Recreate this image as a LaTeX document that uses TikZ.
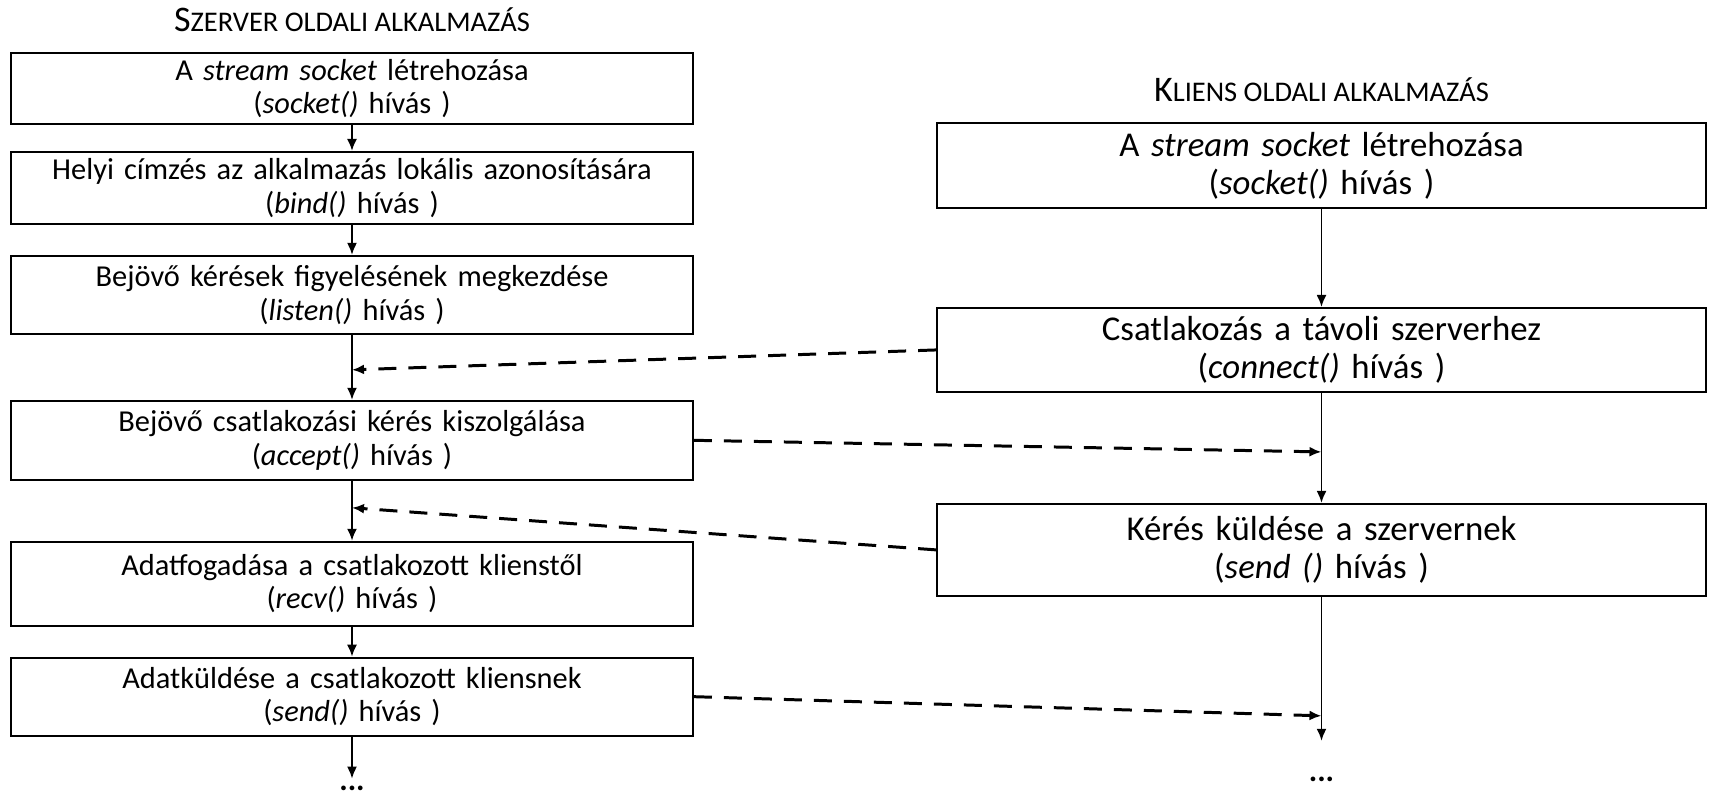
\documentclass[tikz,border=0pt]{standalone}
\usepackage{fontspec}
\setmainfont{Carlito}
\usetikzlibrary{positioning}
\usetikzlibrary{arrows.meta}

\newcommand{\kiskap}[1]{{\fontsize{16.2pt}{16.2pt}\selectfont #1}}

\begin{document}
\begin{tikzpicture}[align=center,node distance=5mm,line width=1.1pt,
szerver/.style={draw,minimum width=13.64cm,text width=13.2cm,inner sep=0pt,font=\fontsize{17.3pt}{19pt}\selectfont},
kliens/.style={draw,minimum width=15.38cm,text width=15cm,inner sep=0pt,font=\fontsize{19.8pt}{21.5pt}\selectfont},
cim/.style={font=\fontsize{20.5pt}{20.5pt}\selectfont},
pontok/.style={inner sep=0pt,font=\fontsize{18pt}{18pt}\selectfont\bfseries},
nyil/.style={-{Latex[length=2.4mm,width=2mm]}},
szaggatott/.style={nyil,dash pattern=on 0.36cm off 0.24cm,line width=1.7pt}
]
\useasboundingbox (0,0) rectangle (34.18,-15.98);
%-- szerver oldal
\node[cim](cimsz) at (7.04,-0.40){S\kiskap{ZERVER OLDALI ALKALMAZÁS}};
\node[szerver,minimum height=1.42cm](b1) at (7.04,-1.77){A \textit{stream socket} létrehozása\\(\textit{socket()} hívás )};
\node[szerver,minimum height=1.44cm,below=0.52cm of b1](b2){Helyi címzés az alkalmazás lokális azonosítására\\(\textit{bind()} hívás )};
\draw [nyil] (b1) -- (b2);
\node[szerver,minimum height=1.56cm,below=0.6cm of b2](b3){Bejövő kérések figyelésének megkezdése\\(\textit{listen()} hívás )};
\draw [nyil] (b2) -- (b3);
\node[szerver,minimum height=1.58cm,below=1.3cm of b3](b4){Bejövő csatlakozási kérés kiszolgálása\\(\textit{accept()} hívás )};
\draw [nyil] (b3) -- (b4);
\node[szerver,minimum height=1.68cm,below=1.2cm of b4](b5){Adatfogadása a csatlakozott klienstől\\(\textit{recv()} hívás )};
\draw [nyil] (b4) -- (b5);
\node[szerver,minimum height=1.56cm,below=0.6cm of b5](b6){Adatküldése a csatlakozott kliensnek\\(\textit{send()} hívás )};
\draw [nyil] (b5) -- (b6);
\coordinate[below=0.84cm of b6.south](vege1);
\draw [nyil] (b6) -- (vege1);
\node[pontok,below=0.12cm of vege1](pont1){...};
%-- kliens oldal
\node[cim](cimkl) at (26.43,-1.80){K\kiskap{LIENS OLDALI ALKALMAZÁS}};
\node[kliens,minimum height=1.7cm](r1) at (26.43,-3.31){A \textit{stream socket} létrehozása\\(\textit{socket()} hívás )};
\node[kliens,minimum height=1.68cm,below=1.96cm of r1](r2){Csatlakozás a távoli szerverhez\\(\textit{connect()} hívás )};
\draw [nyil] (r1) -- (r2);
\node[kliens,minimum height=1.84cm,below=2.2cm of r2](r3){Kérés küldése a szervernek\\(\textit{send ()} hívás )};
\draw [nyil] (r2) -- (r3);
\coordinate[below=2.88cm of r3.south](vege2);
\draw [nyil] (r3) -- (vege2);
\node[pontok,below=0.7cm of vege2](pont2){...};
%-- uzenetek
\coordinate[below=0.7cm of b3.south](d1);
\coordinate[below=1.18cm of r2.south](d2);
\coordinate[below=0.54cm of b4.south](d3);
\coordinate[below=2.38cm of r3.south](d4);
\draw [szaggatott] (r2.west) -- (d1);
\draw [szaggatott] (b4.east) -- (d2);
\draw [szaggatott] (r3.west) -- (d3);
\draw [szaggatott] (b6.east) -- (d4);
\end{tikzpicture}
\end{document}
